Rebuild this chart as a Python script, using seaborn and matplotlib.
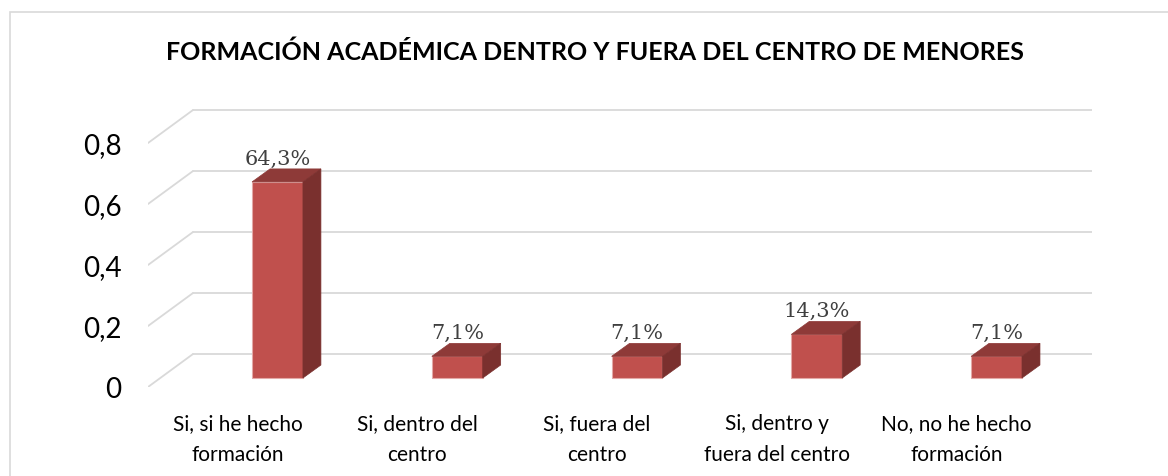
import numpy as np
import pandas as pd
import matplotlib
matplotlib.use('Agg')
import matplotlib.pyplot as plt
import seaborn as sns
from matplotlib.patches import Polygon, Rectangle

# --- Data ---
categories = ['Si, si he hecho\nformación', 'Si, dentro del\ncentro', 'Si, fuera del\ncentro',
              'Si, dentro y\nfuera del centro', 'No, no he hecho\nformación']
values = [0.643, 0.071, 0.071, 0.143, 0.071]
value_labels = ['64,3%', '7,1%', '7,1%', '14,3%', '7,1%']
y_ticks = [0, 0.2, 0.4, 0.6, 0.8]
y_tick_labels = ['0', '0,2', '0,4', '0,6', '0,8']
title = 'FORMACIÓN ACADÉMICA DENTRO Y FUERA DEL CENTRO DE MENORES'

df = pd.DataFrame({'categoria': categories, 'valor': values})

# --- Style ---
sns.set_style('white')
plt.rcParams['font.family'] = ['Lato', 'DejaVu Sans']

front_col = '#C0504D'
top_col = '#8E3A38'
side_col = '#7A302E'
grid_col = '#D9D9D9'

# pseudo-3D offsets (in data units)
bar_w = 0.283
bar_dx, bar_dy = 0.100, 0.0426      # depth of each bar
wall_dx, wall_dy = 0.250, 0.108     # floor depth front -> back wall
front_shift = -0.0295               # front plane relative to bars
back_shift = front_shift + wall_dy  # back wall relative to bars
x_front0 = -0.7204
x_end = 4.531

fig = plt.figure(figsize=(11.68, 4.77), dpi=100)
ax = fig.add_axes([148 / 1168, (477 - 388) / 477, (1092 - 148) / 1168, 288 / 477])

# gridlines: back wall + floor diagonals
for v in y_ticks:
    yf = v + front_shift
    yb = v + back_shift
    ax.plot([x_front0, x_front0 + wall_dx], [yf, yb], color=grid_col, lw=1.3, zorder=0)
    ax.plot([x_front0 + wall_dx, x_end], [yb, yb], color=grid_col, lw=1.3, zorder=0)

# front faces of bars
sns.barplot(data=df, x='categoria', y='valor', color=front_col, width=bar_w,
            saturation=1, edgecolor='#E3A9A7', linewidth=0.8, zorder=3, ax=ax)

# top and side faces
for i, v in enumerate(values):
    x0, x1 = i - bar_w / 2, i + bar_w / 2
    top = Polygon([(x0, v), (x1, v), (x1 + bar_dx, v + bar_dy), (x0 + bar_dx, v + bar_dy)],
                  closed=True, facecolor=top_col, edgecolor=top_col, lw=0.5, zorder=3)
    side = Polygon([(x1, 0), (x1, v), (x1 + bar_dx, v + bar_dy), (x1 + bar_dx, bar_dy)],
                   closed=True, facecolor=side_col, edgecolor=side_col, lw=0.5, zorder=3)
    ax.add_patch(top)
    ax.add_patch(side)
    ax.text(i, v + bar_dy + 0.004, value_labels[i], ha='center', va='bottom',
            fontsize=15, color='#404040', family=['DejaVu Serif'], zorder=4)

ax.set_xlim(x_front0, x_end)
ax.set_ylim(-0.0295, 0.9148)

ax.set_xticks([i - 0.2225 for i in range(len(categories))])
ax.set_xticklabels(categories, fontsize=15, color='#000000', linespacing=1.65)
ax.set_yticks([v + front_shift for v in y_ticks])
ax.set_yticklabels(y_tick_labels, fontsize=20, color='#000000')
ax.tick_params(axis='both', length=0)
ax.tick_params(axis='y', pad=19)
ax.tick_params(axis='x', pad=19)
ax.set_xlabel('')
ax.set_ylabel('')
sns.despine(ax=ax, left=True, bottom=True)

fig.text(595 / 1168, 1 - 52 / 477, title, ha='center', va='center',
         fontsize=18, fontweight='bold', color='#000000')

# chart frame
fig.add_artist(Rectangle((10 / 1168, -0.1), 1.2, (477 - 13) / 477 + 0.1,
                         transform=fig.transFigure, fill=False, edgecolor=grid_col, lw=1.2))

fig.savefig('out.png', dpi=100)
